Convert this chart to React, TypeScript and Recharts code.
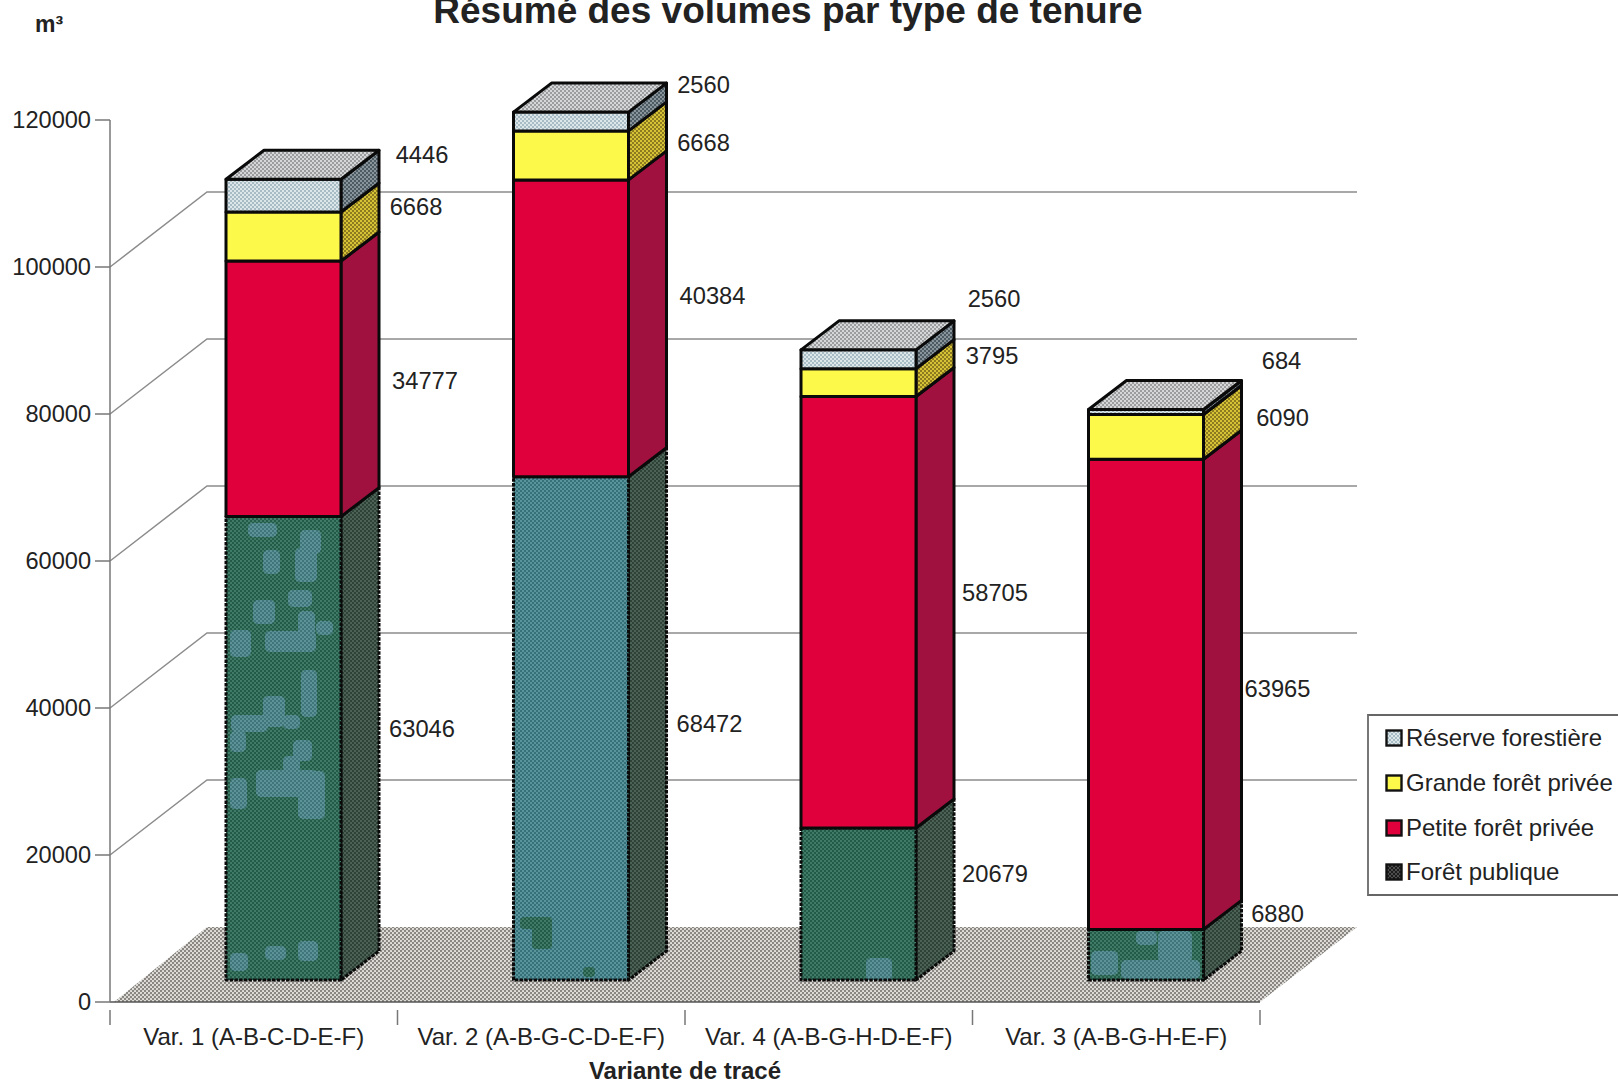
import { Bar, BarChart, CartesianGrid, LabelList, Legend, XAxis, YAxis } from "recharts";

const categories = [
  "Var. 1 (A-B-C-D-E-F)",
  "Var. 2 (A-B-G-C-D-E-F)",
  "Var. 4 (A-B-G-H-D-E-F)",
  "Var. 3 (A-B-G-H-E-F)",
];
const foretPublique = [63046, 68472, 20679, 6880];
const petiteForet = [34777, 40384, 58705, 63965];
const grandeForet = [6668, 6668, 3795, 6090];
const reserve = [4446, 2560, 2560, 684];
const yTicks = [0, 20000, 40000, 60000, 80000, 100000, 120000];

const data = categories.map((name, i) => ({
  name,
  publique: foretPublique[i],
  petite: petiteForet[i],
  grande: grandeForet[i],
  reserve: reserve[i],
}));

const FONT = "'Liberation Sans', Arial, sans-serif";
const TEXT = "#222";
const GRID = "#8c8c8c";

const PLOT_LEFT = 110;
const PLOT_TOP = 120;
const PLOT_WIDTH = 1150;
const PLOT_BOTTOM = 1002;
const BAND = PLOT_WIDTH / categories.length;

// offset of the bars from the axis plane, and depth of the 3D boxes
const BAR_DX = 30;
const BAR_DY = -22;
const BOX_DX = 38;
const BOX_DY = -29;
// floor and back wall
const WALL_DX = 97;
const WALL_DY = -75;
const WALL_RIGHT = 1357;

// label position relative to the middle of the side face, per variant
const publiqueNudge = [[43, -5], [43, 10], [41, -16], [36, -26]];
const petiteNudge = [[46, 7], [46, -18], [41, -5], [36, 9]];
const grandeNudge = [[37, -15], [37, 2], [38, -12], [41, -4]];
const reserveNudge = [[43, -26], [37, -22], [40, -46], [40, -37]];

// print blotches of the scanned green fill: x, y, w, h on the page
const tealBlotches = [
  [250, 525, 25, 10], [265, 552, 13, 20], [302, 532, 17, 20], [297, 550, 18, 30], [290, 592, 20, 13],
  [255, 602, 18, 20], [300, 613, 13, 37], [318, 623, 13, 10], [232, 632, 17, 23], [267, 633, 47, 17],
  [303, 672, 12, 43], [265, 698, 18, 27], [233, 717, 33, 13], [285, 717, 13, 10], [232, 733, 12, 17],
  [295, 742, 15, 17], [285, 758, 13, 13], [258, 772, 57, 23], [300, 773, 23, 44], [232, 780, 13, 27],
  [232, 955, 14, 14], [267, 948, 17, 10], [300, 943, 16, 16], [868, 960, 22, 20],
  [1093, 953, 23, 20], [1123, 962, 75, 15], [1160, 933, 30, 27], [1138, 933, 17, 10],
];
const greenBlotches = [[520, 917, 32, 12], [532, 917, 20, 32], [583, 967, 12, 10]];

function Halftone({ id, base, dot, r = 0.95 }: { id: string; base: string; dot: string; r?: number }) {
  return (
    <pattern id={id} width={4} height={4} patternUnits="userSpaceOnUse">
      <rect width={4} height={4} fill={base} />
      <circle cx={1} cy={1} r={r} fill={dot} />
      <circle cx={3} cy={3} r={r} fill={dot} />
    </pattern>
  );
}

function makeBox(front: (i: number) => string, side: string, top?: string, dash?: string) {
  return (props: any) => {
    const { x, y, width, height, index } = props;
    const l = x + BAR_DX;
    const t = y + BAR_DY;
    const r = l + width;
    const b = t + height;
    return (
      <g stroke="#0a0a0a" strokeWidth={3} strokeLinejoin="round" strokeDasharray={dash}>
        <polygon
          points={`${r},${t} ${r + BOX_DX},${t + BOX_DY} ${r + BOX_DX},${b + BOX_DY} ${r},${b}`}
          fill={side}
        />
        <rect x={l} y={t} width={width} height={height} fill={front(index)} />
        {top && (
          <polygon
            points={`${l},${t} ${l + BOX_DX},${t + BOX_DY} ${r + BOX_DX},${t + BOX_DY} ${r},${t}`}
            fill={top}
          />
        )}
      </g>
    );
  };
}

function makeValueLabel(nudge: number[][]) {
  return (props: any) => {
    const { x, y, width, height, index, value } = props;
    const [dx, dy] = nudge[index];
    return (
      <text
        x={x + BAR_DX + width + BOX_DX + dx}
        y={y + height / 2 + BAR_DY + BOX_DY / 2 + dy}
        textAnchor="middle"
        dominantBaseline="central"
        fontSize={23.7}
        fontFamily={FONT}
        fill={TEXT}
      >
        {value}
      </text>
    );
  };
}

// floor, side wall diagonals and back wall lines, one per y tick
function WallLine(props: any) {
  const { y1 } = props;
  const xf = PLOT_LEFT;
  if (y1 <= PLOT_TOP + 1) return <g />;
  if (y1 >= PLOT_BOTTOM - 1) {
    return (
      <polygon
        points={`${xf + 4},${y1} ${xf + WALL_DX},${y1 + WALL_DY} ${WALL_RIGHT},${y1 + WALL_DY} ${xf + PLOT_WIDTH},${y1}`}
        fill="url(#floor)"
      />
    );
  }
  return (
    <polyline
      points={`${xf},${y1} ${xf + WALL_DX},${y1 + WALL_DY} ${WALL_RIGHT},${y1 + WALL_DY}`}
      fill="none"
      stroke={GRID}
      strokeWidth={1.5}
    />
  );
}

function CategoryTick(props: any) {
  const { x, y, payload, index } = props;
  const tx = x - BAND / 2;
  return (
    <g>
      <line x1={tx} y1={y} x2={tx} y2={y + 15} stroke="#777" strokeWidth={1.5} />
      {index === categories.length - 1 && (
        <line x1={tx + BAND} y1={y} x2={tx + BAND} y2={y + 15} stroke="#777" strokeWidth={1.5} />
      )}
      <text x={x} y={y + 42} textAnchor="middle" dy={-7} fontSize={24} fontFamily={FONT} fill={TEXT}>
        {payload.value}
      </text>
    </g>
  );
}

function LegendBox({ payload }: any) {
  const items = [...(payload ?? [])].reverse();
  return (
    <div
      style={{
        boxSizing: "border-box",
        height: 182,
        borderTop: "2px solid #666",
        borderLeft: "2px solid #777",
        borderBottom: "2px solid #666",
        background: "#fff",
      }}
    >
      {items.map((item: any) => (
        <div
          key={item.value}
          style={{ display: "flex", alignItems: "center", height: 44.7, paddingLeft: 16, whiteSpace: "nowrap" }}
        >
          <svg width={18} height={18} style={{ marginRight: 3, flex: "none" }}>
            <rect x={1.5} y={1.5} width={15} height={15} fill={item.color} stroke="#111" strokeWidth={2.4} />
          </svg>
          <span style={{ fontFamily: FONT, fontSize: 24, color: TEXT }}>{item.value}</span>
        </div>
      ))}
    </div>
  );
}

const greenDash = "3.5 1.2";

export default function App() {
  return (
    <div style={{ position: "absolute", left: 0, top: 0, width: 1618, height: 1083, overflow: "hidden", background: "#fff" }}>
      <BarChart
        width={1618}
        height={1083}
        data={data}
        margin={{ top: PLOT_TOP, right: 1618 - PLOT_LEFT - PLOT_WIDTH, left: 0, bottom: 0 }}
        style={{ fontFamily: FONT }}
      >
        <defs>
          <Halftone id="floor" base="#8a8782" dot="#e8e6e2" r={1.05} />
          <Halftone id="greenA" base="#245a48" dot="#4c8a76" />
          <Halftone id="blotch" base="#3f767c" dot="#6a9ea2" />
          <Halftone id="tealA" base="#35717a" dot="#6ba2aa" />
          <Halftone id="greenSide" base="#2e4238" dot="#5a7064" />
          <Halftone id="yellowSide" base="#8f7b1f" dot="#f2e040" />
          <Halftone id="resFront" base="#a8bcc6" dot="#f4f7f7" />
          <Halftone id="resSide" base="#4c5a63" dot="#a2adb3" />
          <Halftone id="resTop" base="#9a9c9e" dot="#f0f0f0" />
          <Halftone id="legendGreen" base="#1c1c1c" dot="#8a8a8a" r={0.8} />
          <pattern id="publiqueFront" width={1618} height={1083} patternUnits="userSpaceOnUse">
            <rect width={1618} height={1083} fill="url(#greenA)" />
            <rect x={513} y={400} width={115} height={600} fill="url(#tealA)" />
            {tealBlotches.map(([x, y, w, h], i) => (
              <rect key={i} x={x - 2} y={y - 2} width={w + 4} height={h + 4} rx={5} fill="url(#blotch)" />
            ))}
            {greenBlotches.map(([x, y, w, h], i) => (
              <rect key={i} x={x} y={y} width={w} height={h} rx={4} fill="url(#greenA)" />
            ))}
          </pattern>
        </defs>
        <text x={788} y={23} textAnchor="middle" fontSize={37} fontWeight={700} fontFamily={FONT} fill={TEXT}>
          Résumé des volumes par type de tenure
        </text>
        <text x={35} y={32} fontSize={23} fontWeight={700} fontFamily={FONT} fill={TEXT}>
          m³
        </text>
        <CartesianGrid vertical={false} horizontal={(p: any) => <WallLine key={p.key} {...p} />} />
        <XAxis
          dataKey="name"
          height={81}
          interval={0}
          tickLine={false}
          axisLine={{ stroke: "#555", strokeWidth: 1.5 }}
          tick={CategoryTick}
          label={{ value: "Variante de tracé", position: "insideBottom", offset: 4, fontSize: 24, fontWeight: 700, fill: TEXT }}
        />
        <YAxis
          width={PLOT_LEFT}
          domain={[0, 120000]}
          ticks={yTicks}
          interval={0}
          tickSize={15}
          tickMargin={4}
          tickLine={{ stroke: "#777", strokeWidth: 1.5 }}
          axisLine={{ stroke: "#777", strokeWidth: 1.5 }}
          tick={{ fontSize: 23.6, fill: TEXT, fontFamily: FONT }}
        />
        <Legend
          layout="vertical"
          align="center"
          verticalAlign="middle"
          itemSorter={null}
          content={LegendBox}
          wrapperStyle={{ left: 1367, top: 714, width: 260 }}
        />
        <Bar
          dataKey="publique"
          name="Forêt publique"
          stackId="a"
          barSize={115}
          fill="url(#legendGreen)"
          isAnimationActive={false}
          shape={makeBox(() => "url(#publiqueFront)", "url(#greenSide)", undefined, greenDash)}
        >
          <LabelList dataKey="publique" content={makeValueLabel(publiqueNudge)} />
        </Bar>
        <Bar
          dataKey="petite"
          name="Petite forêt privée"
          stackId="a"
          barSize={115}
          fill="#e0003c"
          isAnimationActive={false}
          shape={makeBox(() => "#e0003c", "#a1113f")}
        >
          <LabelList dataKey="petite" content={makeValueLabel(petiteNudge)} />
        </Bar>
        <Bar
          dataKey="grande"
          name="Grande forêt privée"
          stackId="a"
          barSize={115}
          fill="#fdf94a"
          isAnimationActive={false}
          shape={makeBox(() => "#fdf94a", "url(#yellowSide)")}
        >
          <LabelList dataKey="grande" content={makeValueLabel(grandeNudge)} />
        </Bar>
        <Bar
          dataKey="reserve"
          name="Réserve forestière"
          stackId="a"
          barSize={115}
          fill="url(#resFront)"
          isAnimationActive={false}
          shape={makeBox(() => "url(#resFront)", "url(#resSide)", "url(#resTop)")}
        >
          <LabelList dataKey="reserve" content={makeValueLabel(reserveNudge)} />
        </Bar>
      </BarChart>
    </div>
  );
}
